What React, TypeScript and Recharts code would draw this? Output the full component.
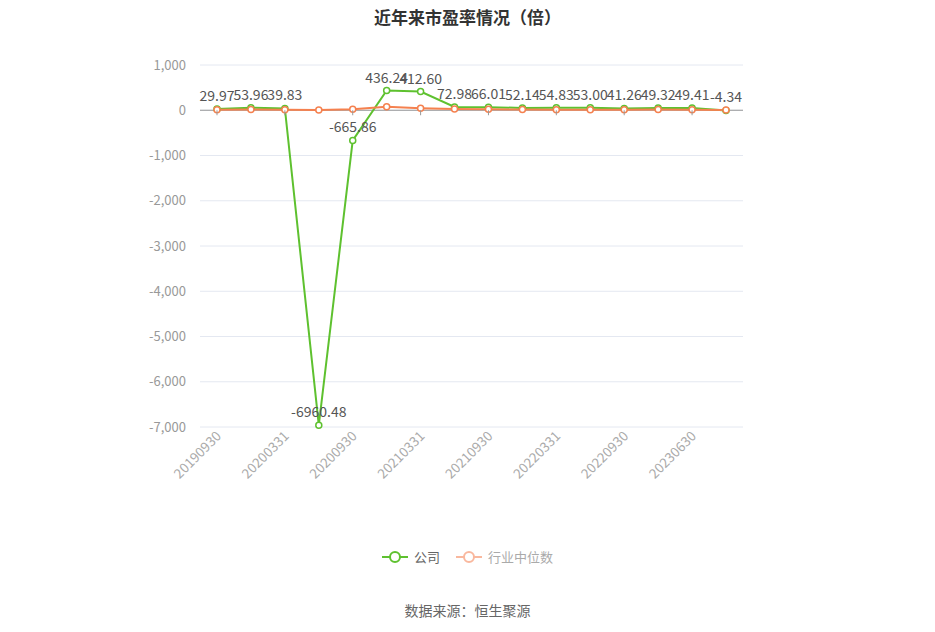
import React from "react";
import {
  LineChart,
  Line,
  XAxis,
  YAxis,
  CartesianGrid,
  Legend,
  ReferenceLine,
  LabelList,
} from "recharts";

const periods = [
  "20190930", "20191231", "20200331", "20200630", "20200930", "20201231",
  "20210331", "20210630", "20210930", "20211231", "20220331", "20220630",
  "20220930", "20230331", "20230630", "20230930",
];
const company = [
  29.97, 53.96, 39.83, -6960.48, -665.86, 436.24, 412.6, 72.98,
  66.01, 52.14, 54.83, 53.0, 41.26, 49.32, 49.41, -4.34,
];
const industry = [
  10, 15, 12, 8, 20, 75, 45, 25, 20, 15, 12, 12, 10, 15, 12, 5,
];
const yTicks = [1000, 0, -1000, -2000, -3000, -4000, -5000, -6000, -7000];

const data = periods.map((p, i) => ({ period: p, company: company[i], industry: industry[i] }));

const GREEN = "#5ec12f";
const ORANGE = "#f5814f";
const FONT = "'Noto Sans CJK SC', 'Noto Sans', sans-serif";

const W = 935;
const H = 632;
const PLOT_TOP = 65;
const PLOT_H = 362;
const Y_MAX = 1000;
const Y_MIN = -7000;
const zeroY = PLOT_TOP + (PLOT_H * Y_MAX) / (Y_MAX - Y_MIN);

function XTick(props: any) {
  const { x, y, payload } = props;
  return (
    <g>
      <line x1={x} x2={x} y1={zeroY} y2={zeroY + 5} stroke="#999" />
      <text
        x={x + 5}
        y={y + 2}
        transform={`rotate(-45, ${x + 5}, ${y + 2})`}
        textAnchor="end"
        fontSize={13.5}
        fill="#aaa"
        fontFamily={FONT}
      >
        {payload.value}
      </text>
    </g>
  );
}

function LegendContent() {
  const items = [
    { name: "公司", color: GREEN, text: "#666" },
    { name: "行业中位数", color: "#f9b89e", text: "#aaa" },
  ];
  return (
    <div style={{ display: "flex", justifyContent: "center", gap: 16, fontFamily: FONT, fontSize: 13 }}>
      {items.map((it) => (
        <div key={it.name} style={{ display: "flex", alignItems: "center", gap: 6 }}>
          <svg width={26} height={14}>
            <line x1={0} x2={26} y1={7} y2={7} stroke={it.color} strokeWidth={2} />
            <circle cx={13} cy={7} r={5} fill="#fff" stroke={it.color} strokeWidth={2} />
          </svg>
          <span style={{ color: it.text }}>{it.name}</span>
        </div>
      ))}
    </div>
  );
}

export default function App() {
  return (
    <div style={{ position: "absolute", left: 0, top: 0, width: W, height: H, background: "#fff", fontFamily: FONT }}>
      <div
        style={{
          position: "absolute",
          top: 4,
          width: W,
          textAlign: "center",
          fontSize: 17,
          fontWeight: "bold",
          color: "#333",
        }}
      >
        近年来市盈率情况（倍）
      </div>
      <LineChart
        width={W}
        height={H}
        data={data}
        margin={{ top: PLOT_TOP, right: 192, bottom: 65, left: 0 }}
      >
        <CartesianGrid vertical={false} stroke="#e4e8f1" />
        <XAxis
          dataKey="period"
          interval={1}
          axisLine={false}
          tickLine={false}
          height={120}
          padding={{ left: 17, right: 17 }}
          tick={<XTick />}
        />
        <YAxis
          width={200}
          domain={[Y_MIN, Y_MAX]}
          ticks={yTicks}
          axisLine={false}
          tickLine={false}
          tickMargin={8}
          tick={{ fontSize: 13, fill: "#999", fontFamily: FONT }}
          tickFormatter={(v: number) => v.toLocaleString("en-US")}
        />
        <ReferenceLine y={0} stroke="#999" />
        <Legend
          verticalAlign="bottom"
          height={20}
          wrapperStyle={{ left: 0, width: W }}
          content={<LegendContent />}
        />
        <Line
          dataKey="company"
          name="公司"
          stroke={GREEN}
          strokeWidth={2}
          dot={{ r: 3, fill: "#fff", stroke: GREEN, strokeWidth: 1.5 }}
          isAnimationActive={false}
        >
          <LabelList
            dataKey="company"
            position="top"
            offset={8}
            fontSize={14}
            fill="#555"
            fontFamily={FONT}
            formatter={(v: number) => v.toFixed(2)}
          />
        </Line>
        <Line
          dataKey="industry"
          name="行业中位数"
          stroke={ORANGE}
          strokeWidth={2}
          dot={{ r: 3, fill: "#fff", stroke: ORANGE, strokeWidth: 1.5 }}
          isAnimationActive={false}
        />
      </LineChart>
      <div
        style={{
          position: "absolute",
          top: 600,
          width: W,
          textAlign: "center",
          fontSize: 14,
          color: "#666",
        }}
      >
        数据来源：恒生聚源
      </div>
    </div>
  );
}
